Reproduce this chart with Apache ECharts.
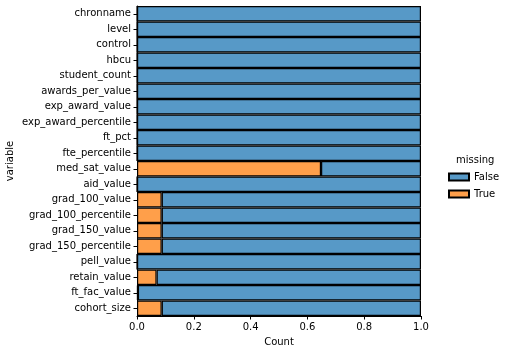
<!DOCTYPE html>
<html>
<head>
  <meta charset="utf-8">
  <title>missing</title>
  <style>
  body { margin: 0; background: #fff; }
  #chart { width: 509px; height: 352px; }
  </style>
</head>
<body>
  <div id="chart"></div>
  <script src="https://cdn.jsdelivr.net/npm/echarts@6/dist/echarts.min.js"></script>
  <script>
  const variables = ['chronname', 'level', 'control', 'hbcu', 'student_count', 'awards_per_value',
    'exp_award_value', 'exp_award_percentile', 'ft_pct', 'fte_percentile', 'med_sat_value',
    'aid_value', 'grad_100_value', 'grad_100_percentile', 'grad_150_value', 'grad_150_percentile',
    'pell_value', 'retain_value', 'ft_fac_value', 'cohort_size'];
  // share of missing (True) and present (False) per variable
  const trueShare = [0, 0, 0, 0, 0, 0, 0, 0, 0, 0, 0.648, 0, 0.087, 0.087, 0.087, 0.087, 0, 0.069, 0.003, 0.087];
  const falseShare = [1, 1, 1, 1, 1, 1, 1, 1, 1, 1, 0.352, 1, 0.913, 0.913, 0.913, 0.913, 1, 0.931, 0.997, 0.913];
  const xTicks = [0, 0.2, 0.4, 0.6, 0.8, 1.0];

  const font = 'DejaVu Sans';
  const barStyle = { borderColor: '#000', borderWidth: 1.2 };

  let chart = echarts.init(document.getElementById('chart'));
  chart.setOption({
    animation: false,
    textStyle: { fontFamily: font },
    grid: { left: 137, right: 88, top: 6, bottom: 36, containLabel: false, outerBoundsMode: 'none' },
    xAxis: {
      type: 'value',
      min: xTicks[0],
      max: xTicks[xTicks.length - 1],
      interval: 0.2,
      name: 'Count',
      nameLocation: 'middle',
      nameGap: 21,
      nameTextStyle: { color: '#000', fontSize: 10, fontFamily: font },
      axisLine: { show: true, lineStyle: { color: '#000', width: 1 } },
      axisTick: { show: true, length: 3.5, lineStyle: { color: '#000' } },
      axisLabel: { color: '#000', fontSize: 10, margin: 6, formatter: v => v.toFixed(1) },
      splitLine: { show: false }
    },
    yAxis: {
      type: 'category',
      data: variables,
      inverse: true,
      axisLine: { show: true, lineStyle: { color: '#000', width: 1 } },
      axisTick: { show: true, alignWithLabel: true, length: 3.5, lineStyle: { color: '#000' } },
      axisLabel: { color: '#000', fontSize: 10, margin: 6 },
      splitLine: { show: false }
    },
    legend: {
      orient: 'vertical',
      left: 443,
      top: 167,
      itemWidth: 20,
      itemHeight: 7,
      itemGap: 7,
      icon: 'rect',
      textStyle: { color: '#000', fontSize: 10, fontFamily: font },
      data: ['False', 'True']
    },
    graphic: [{
      type: 'text',
      left: 456,
      top: 155,
      style: { text: 'missing', fill: '#000', font: '10px "DejaVu Sans"' }
    }, {
      type: 'text',
      x: 10,
      y: 161,
      rotation: Math.PI / 2,
      style: { text: 'variable', fill: '#000', font: '10px "DejaVu Sans"', align: 'center', verticalAlign: 'middle' }
    }],
    series: [{
      name: 'True',
      type: 'bar',
      stack: 'total',
      barWidth: '100%',
      barCategoryGap: 0,
      itemStyle: Object.assign({ color: '#ff9f4a' }, barStyle),
      data: trueShare
    }, {
      name: 'False',
      type: 'bar',
      stack: 'total',
      barWidth: '100%',
      barCategoryGap: 0,
      itemStyle: Object.assign({ color: '#5799c7' }, barStyle),
      data: falseShare
    }]
  });
  </script>
</body>
</html>
